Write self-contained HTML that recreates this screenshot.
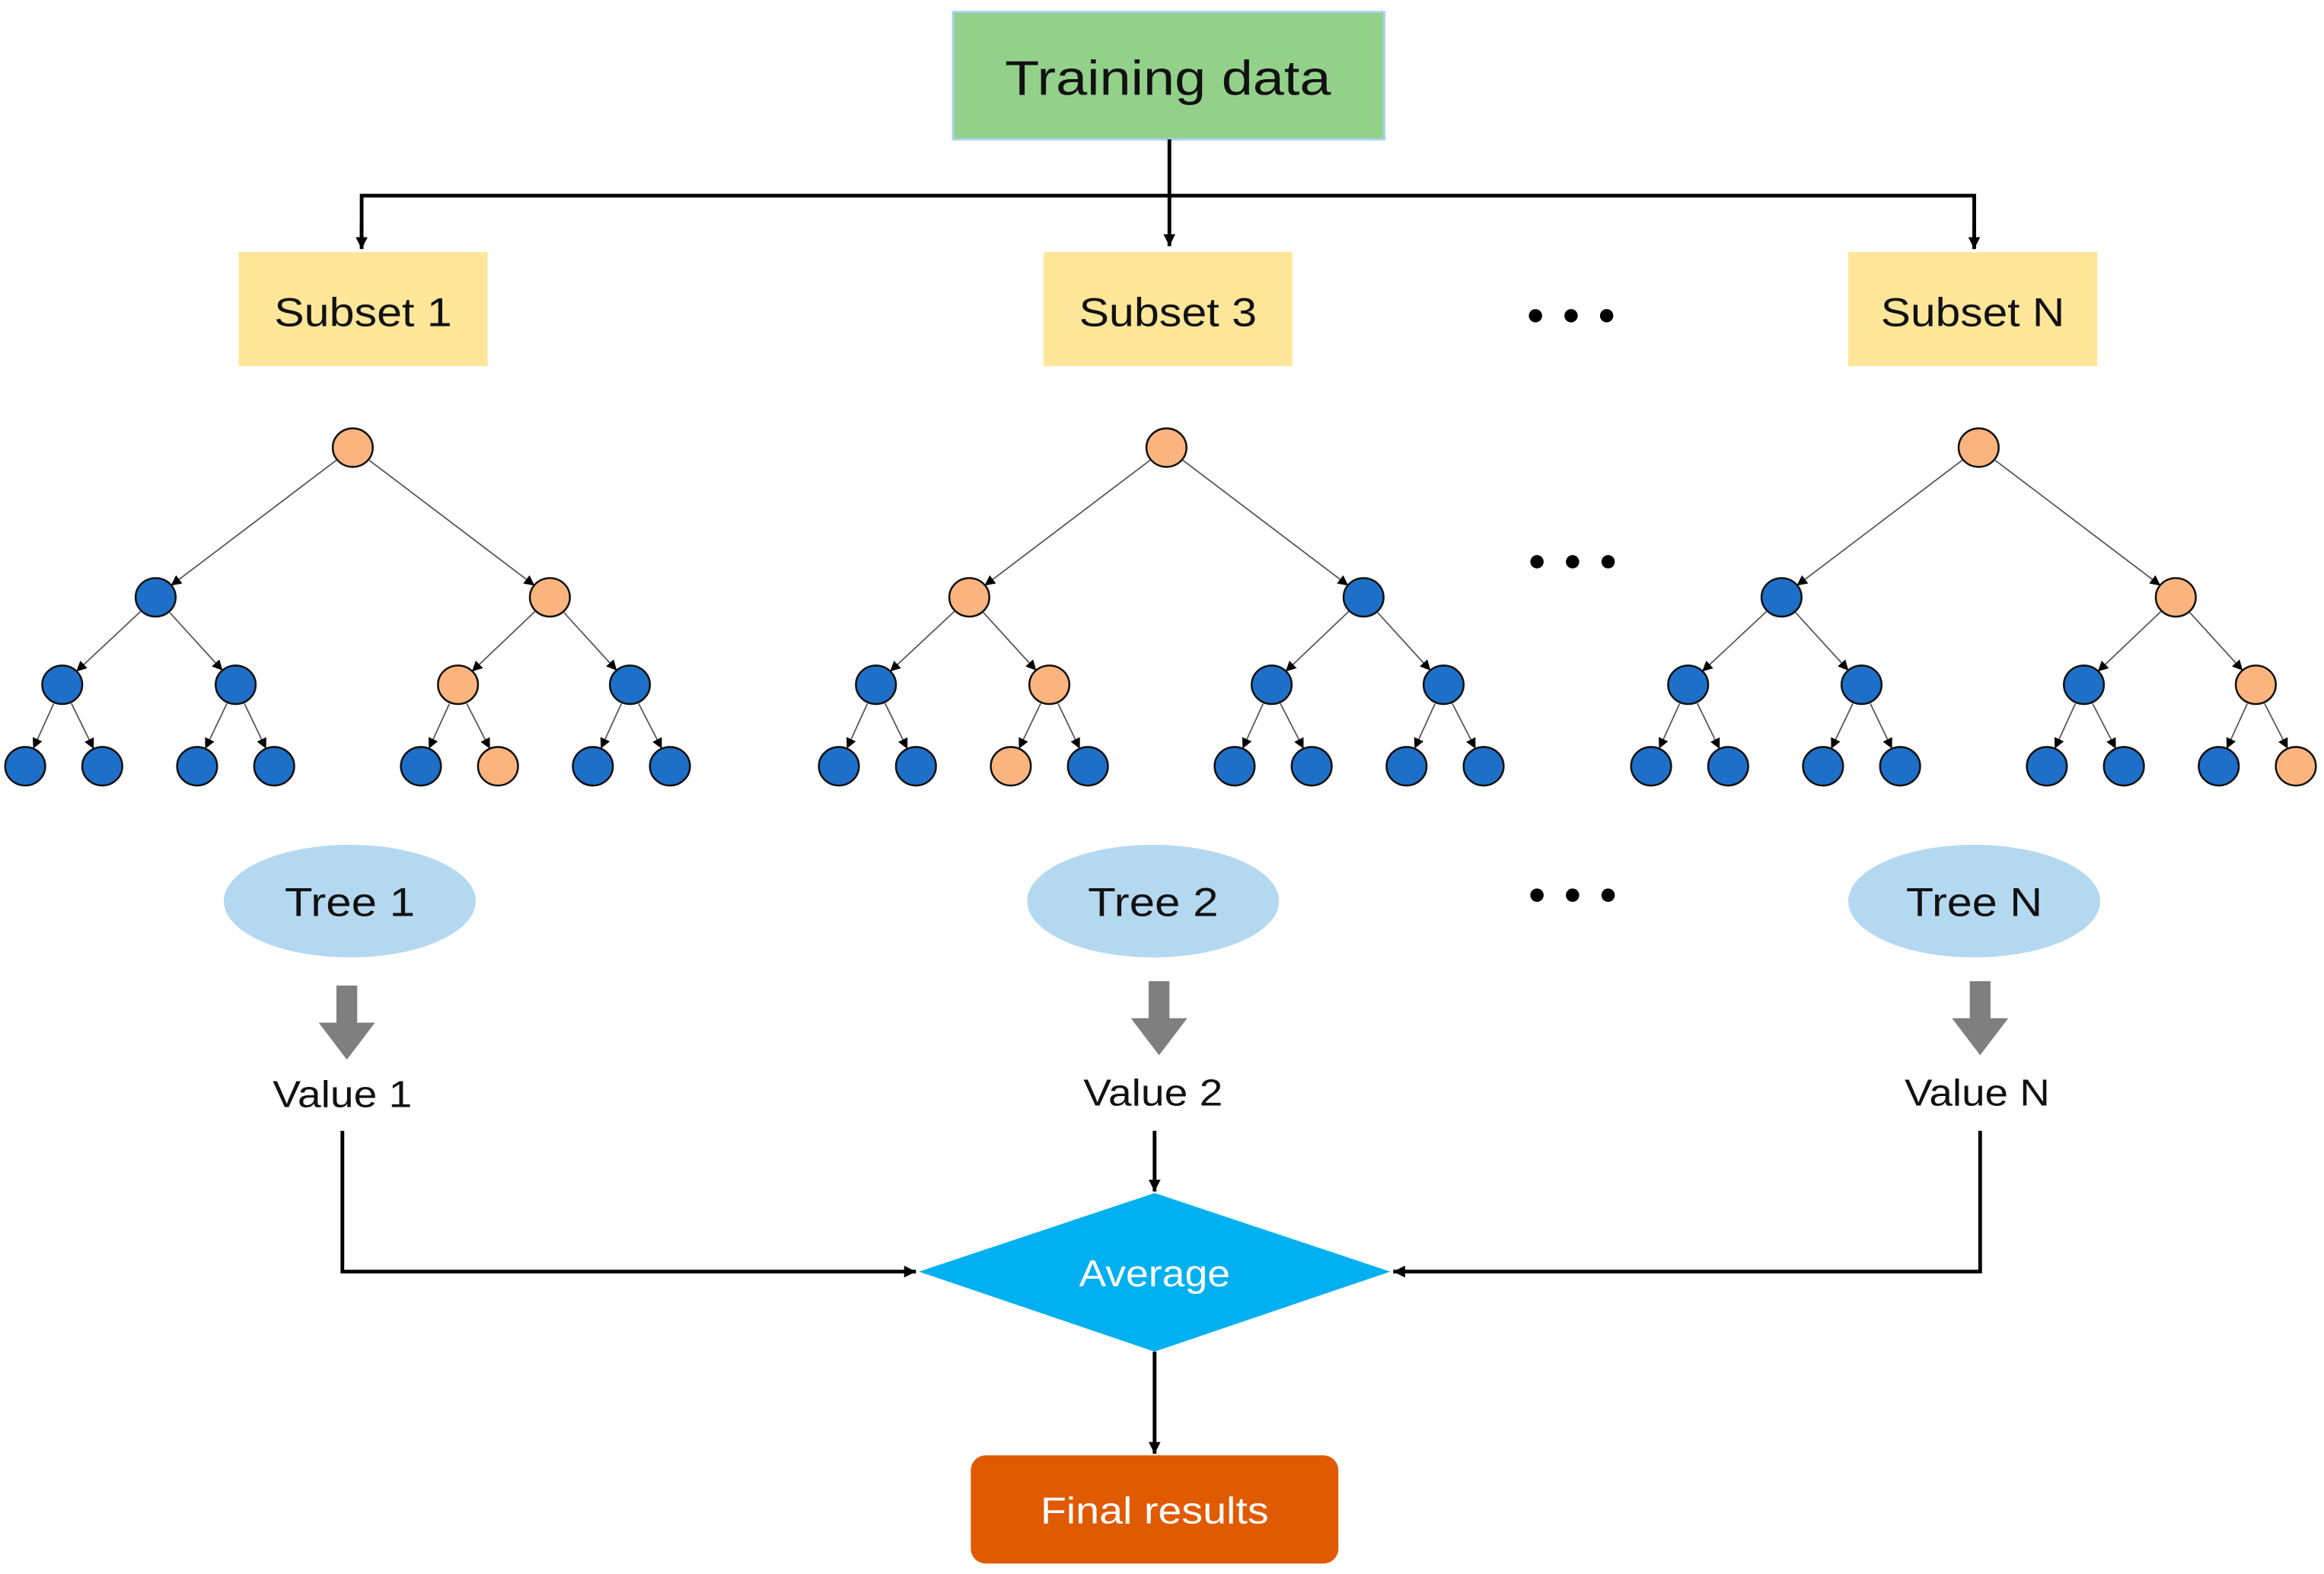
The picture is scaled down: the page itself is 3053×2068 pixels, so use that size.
<!DOCTYPE html>
<html><head><meta charset="utf-8"><style>
html,body{margin:0;padding:0;background:#fff;}
svg{display:block;}
text{font-family:"Liberation Sans",sans-serif;}
</style></head><body>
<svg width="3053" height="2068" viewBox="0 0 1568 1062" xmlns="http://www.w3.org/2000/svg">
<defs>
<marker id="a" markerUnits="userSpaceOnUse" markerWidth="10" markerHeight="10" refX="8" refY="4" orient="auto"><path d="M0,0 L8,4 L0,8 z" fill="#000"/></marker>
<marker id="s" markerUnits="userSpaceOnUse" markerWidth="8" markerHeight="8" refX="6" refY="3.5" orient="auto"><path d="M0,0 L7,3.5 L0,7 z" fill="#000"/></marker>
<g id="edges" stroke="#555" stroke-width="0.9" fill="none" marker-end="url(#s)">
<line x1="226.9" y1="310.5" x2="116.1" y2="394.5"/>
<line x1="249.1" y1="310.5" x2="359.9" y2="394.5"/>
<line x1="94.8" y1="412.6" x2="52.2" y2="452.4"/>
<line x1="114.5" y1="413.3" x2="149.5" y2="451.7"/>
<line x1="360.9" y1="412.6" x2="319.1" y2="452.4"/>
<line x1="380.5" y1="413.3" x2="415.5" y2="451.7"/>
<line x1="36.2" y1="474.8" x2="22.8" y2="504.2"/>
<line x1="48.2" y1="474.6" x2="62.8" y2="504.4"/>
<line x1="153.1" y1="474.7" x2="138.9" y2="504.3"/>
<line x1="164.9" y1="474.7" x2="179.1" y2="504.3"/>
<line x1="303.2" y1="474.8" x2="289.8" y2="504.2"/>
<line x1="314.9" y1="474.7" x2="330.1" y2="504.3"/>
<line x1="419.2" y1="474.8" x2="405.8" y2="504.2"/>
<line x1="430.9" y1="474.7" x2="446.1" y2="504.3"/>
</g>
</defs>

<!-- Training data -->
<rect x="643" y="8" width="291" height="86" fill="#93d18b" stroke="#a9d4ee" stroke-width="1.5"/>
<text x="788" y="64" font-size="33" text-anchor="middle" textLength="220" lengthAdjust="spacingAndGlyphs" fill="#111">Training data</text>

<!-- top connectors -->
<g stroke="#000" stroke-width="2.5" fill="none">
<line x1="789" y1="94" x2="789" y2="166" marker-end="url(#a)"/>
<polyline points="244,166 244,132 1332,132 1332,166" />
<line x1="244" y1="150" x2="244" y2="168" marker-end="url(#a)"/>
<line x1="1332" y1="150" x2="1332" y2="168" marker-end="url(#a)"/>
</g>

<!-- subsets -->
<rect x="161" y="170" width="168" height="77" fill="#ffe699"/>
<text x="245" y="220" font-size="27" text-anchor="middle" textLength="120" lengthAdjust="spacingAndGlyphs" fill="#111">Subset 1</text>
<rect x="704" y="170" width="168" height="77" fill="#ffe699"/>
<text x="788" y="220" font-size="27" text-anchor="middle" textLength="120" lengthAdjust="spacingAndGlyphs" fill="#111">Subset 3</text>
<rect x="1247" y="170" width="168" height="77" fill="#ffe699"/>
<text x="1331" y="220" font-size="27" text-anchor="middle" textLength="124" lengthAdjust="spacingAndGlyphs" fill="#111">Subset N</text>

<!-- dots -->
<g fill="#000">
<circle cx="1036" cy="213" r="4.5"/><circle cx="1060" cy="213" r="4.5"/><circle cx="1084" cy="213" r="4.5"/>
<circle cx="1037" cy="379" r="4.5"/><circle cx="1061" cy="379" r="4.5"/><circle cx="1085" cy="379" r="4.5"/>
<circle cx="1037" cy="604" r="4.5"/><circle cx="1061" cy="604" r="4.5"/><circle cx="1085" cy="604" r="4.5"/>
</g>

<!-- tree edges -->
<use href="#edges"/>
<use href="#edges" transform="translate(549,0)"/>
<use href="#edges" transform="translate(1097,0)"/>

<!-- Tree 1 nodes -->
<g stroke="#111" stroke-width="1.3">
<ellipse cx="238" cy="302" rx="13.5" ry="13" fill="#fbb47e"/>
<ellipse cx="105" cy="403" rx="13.5" ry="13" fill="#1e6fc7"/>
<ellipse cx="371" cy="403" rx="13.5" ry="13" fill="#fbb47e"/>
<ellipse cx="42" cy="462" rx="13.5" ry="13" fill="#1e6fc7"/>
<ellipse cx="159" cy="462" rx="13.5" ry="13" fill="#1e6fc7"/>
<ellipse cx="309" cy="462" rx="13.5" ry="13" fill="#fbb47e"/>
<ellipse cx="425" cy="462" rx="13.5" ry="13" fill="#1e6fc7"/>
<ellipse cx="17" cy="517" rx="13.5" ry="13" fill="#1e6fc7"/>
<ellipse cx="69" cy="517" rx="13.5" ry="13" fill="#1e6fc7"/>
<ellipse cx="133" cy="517" rx="13.5" ry="13" fill="#1e6fc7"/>
<ellipse cx="185" cy="517" rx="13.5" ry="13" fill="#1e6fc7"/>
<ellipse cx="284" cy="517" rx="13.5" ry="13" fill="#1e6fc7"/>
<ellipse cx="336" cy="517" rx="13.5" ry="13" fill="#fbb47e"/>
<ellipse cx="400" cy="517" rx="13.5" ry="13" fill="#1e6fc7"/>
<ellipse cx="452" cy="517" rx="13.5" ry="13" fill="#1e6fc7"/>
</g>
<!-- Tree 2 nodes -->
<g stroke="#111" stroke-width="1.3" transform="translate(549,0)">
<ellipse cx="238" cy="302" rx="13.5" ry="13" fill="#fbb47e"/>
<ellipse cx="105" cy="403" rx="13.5" ry="13" fill="#fbb47e"/>
<ellipse cx="371" cy="403" rx="13.5" ry="13" fill="#1e6fc7"/>
<ellipse cx="42" cy="462" rx="13.5" ry="13" fill="#1e6fc7"/>
<ellipse cx="159" cy="462" rx="13.5" ry="13" fill="#fbb47e"/>
<ellipse cx="309" cy="462" rx="13.5" ry="13" fill="#1e6fc7"/>
<ellipse cx="425" cy="462" rx="13.5" ry="13" fill="#1e6fc7"/>
<ellipse cx="17" cy="517" rx="13.5" ry="13" fill="#1e6fc7"/>
<ellipse cx="69" cy="517" rx="13.5" ry="13" fill="#1e6fc7"/>
<ellipse cx="133" cy="517" rx="13.5" ry="13" fill="#fbb47e"/>
<ellipse cx="185" cy="517" rx="13.5" ry="13" fill="#1e6fc7"/>
<ellipse cx="284" cy="517" rx="13.5" ry="13" fill="#1e6fc7"/>
<ellipse cx="336" cy="517" rx="13.5" ry="13" fill="#1e6fc7"/>
<ellipse cx="400" cy="517" rx="13.5" ry="13" fill="#1e6fc7"/>
<ellipse cx="452" cy="517" rx="13.5" ry="13" fill="#1e6fc7"/>
</g>
<!-- Tree N nodes -->
<g stroke="#111" stroke-width="1.3" transform="translate(1097,0)">
<ellipse cx="238" cy="302" rx="13.5" ry="13" fill="#fbb47e"/>
<ellipse cx="105" cy="403" rx="13.5" ry="13" fill="#1e6fc7"/>
<ellipse cx="371" cy="403" rx="13.5" ry="13" fill="#fbb47e"/>
<ellipse cx="42" cy="462" rx="13.5" ry="13" fill="#1e6fc7"/>
<ellipse cx="159" cy="462" rx="13.5" ry="13" fill="#1e6fc7"/>
<ellipse cx="309" cy="462" rx="13.5" ry="13" fill="#1e6fc7"/>
<ellipse cx="425" cy="462" rx="13.5" ry="13" fill="#fbb47e"/>
<ellipse cx="17" cy="517" rx="13.5" ry="13" fill="#1e6fc7"/>
<ellipse cx="69" cy="517" rx="13.5" ry="13" fill="#1e6fc7"/>
<ellipse cx="133" cy="517" rx="13.5" ry="13" fill="#1e6fc7"/>
<ellipse cx="185" cy="517" rx="13.5" ry="13" fill="#1e6fc7"/>
<ellipse cx="284" cy="517" rx="13.5" ry="13" fill="#1e6fc7"/>
<ellipse cx="336" cy="517" rx="13.5" ry="13" fill="#1e6fc7"/>
<ellipse cx="400" cy="517" rx="13.5" ry="13" fill="#1e6fc7"/>
<ellipse cx="452" cy="517" rx="13.5" ry="13" fill="#fbb47e"/>
</g>

<!-- Tree ellipses -->
<ellipse cx="236" cy="608" rx="85" ry="38" fill="#b4d8f0"/>
<text x="236" y="618" font-size="27" text-anchor="middle" textLength="88" lengthAdjust="spacingAndGlyphs" fill="#111">Tree 1</text>
<ellipse cx="778" cy="608" rx="85" ry="38" fill="#b4d8f0"/>
<text x="778" y="618" font-size="27" text-anchor="middle" textLength="88" lengthAdjust="spacingAndGlyphs" fill="#111">Tree 2</text>
<ellipse cx="1332" cy="608" rx="85" ry="38" fill="#b4d8f0"/>
<text x="1332" y="618" font-size="27" text-anchor="middle" textLength="92" lengthAdjust="spacingAndGlyphs" fill="#111">Tree N</text>

<!-- gray arrows -->
<g fill="#7f7f7f">
<path d="M227,665 h14 v25 h12 l-19,25 l-19,-25 h12 z"/>
<path d="M775,662 h14 v25 h12 l-19,25 l-19,-25 h12 z"/>
<path d="M1329,662 h14 v25 h12 l-19,25 l-19,-25 h12 z"/>
</g>

<!-- values -->
<text x="231" y="747" font-size="25" text-anchor="middle" textLength="94" lengthAdjust="spacingAndGlyphs" fill="#111">Value 1</text>
<text x="778" y="746" font-size="25" text-anchor="middle" textLength="94" lengthAdjust="spacingAndGlyphs" fill="#111">Value 2</text>
<text x="1334" y="746" font-size="25" text-anchor="middle" textLength="98" lengthAdjust="spacingAndGlyphs" fill="#111">Value N</text>

<!-- connectors to average -->
<g stroke="#000" stroke-width="2.5" fill="none">
<polyline points="231,763 231,858 618,858" marker-end="url(#a)"/>
<polyline points="1336,763 1336,858 940,858" marker-end="url(#a)"/>
<line x1="779" y1="763" x2="779" y2="804" marker-end="url(#a)"/>
<line x1="779" y1="912" x2="779" y2="981" marker-end="url(#a)"/>
</g>

<!-- diamond -->
<polygon points="779,805 938,858 779,912 620,858" fill="#00b0f0"/>
<text x="779" y="868" font-size="25" text-anchor="middle" textLength="102" lengthAdjust="spacingAndGlyphs" fill="#fff">Average</text>

<!-- final -->
<rect x="655" y="982" width="248" height="73" rx="10" fill="#e05a00"/>
<text x="779" y="1028" font-size="25" text-anchor="middle" textLength="154" lengthAdjust="spacingAndGlyphs" fill="#fff">Final results</text>
</svg>
</body></html>
